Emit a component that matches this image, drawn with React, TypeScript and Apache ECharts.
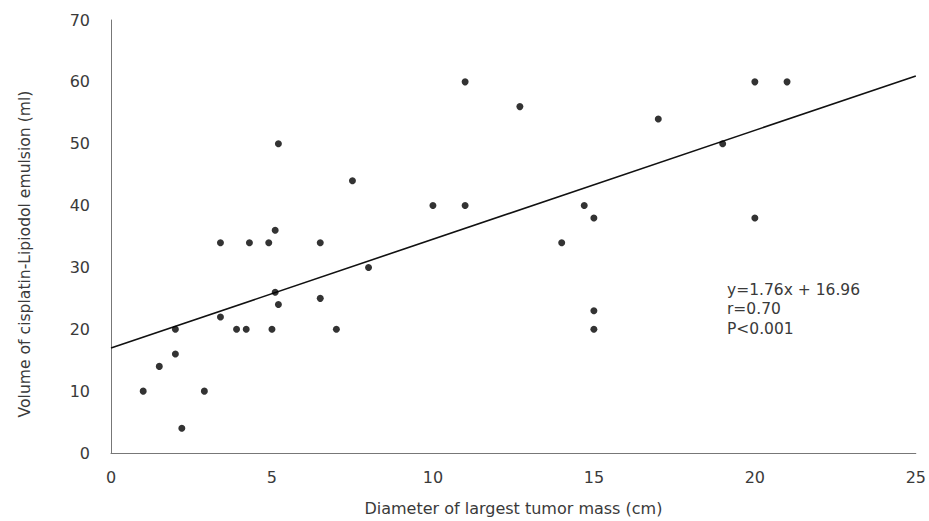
import React, { useEffect, useRef } from "react";
import * as echarts from "echarts";

const diameters = [1, 1.5, 2, 2, 2.2, 2.9, 3.4, 3.4, 3.9, 4.2, 4.3, 5, 4.9, 5.1, 5.2, 5.1, 5.2, 6.5, 6.5, 7, 7.5, 8, 10, 11, 11, 12.7, 14, 14.7, 15, 15, 15, 17, 19, 20, 21, 20];
const volumes = [10, 14, 20, 16, 4, 10, 22, 34, 20, 20, 34, 20, 34, 36, 50, 26, 24, 25, 34, 20, 44, 30, 40, 40, 60, 56, 34, 40, 38, 23, 20, 54, 50, 60, 60, 38];
const slope = 1.76;
const intercept = 16.96;
const fitRange = [0, 25];
const annotationLines = ["y=1.76x + 16.96", "r=0.70", "P<0.001"];
const xTitle = "Diameter of largest tumor mass (cm)";
const yTitle = "Volume of cisplatin-Lipiodol emulsion (ml)";

export default function App() {
  const ref = useRef<HTMLDivElement>(null);
  useEffect(() => {
    if (!ref.current) return;
    const chart = echarts.init(ref.current, null, { renderer: "svg" });
    const points = diameters.map((d, i) => [d, volumes[i]]);
    const fit = fitRange.map((x) => [x, slope * x + intercept]);
    const font = "DejaVu Sans, Liberation Sans, sans-serif";
    const textColor = "#3a3a3a";
    chart.setOption({
      animation: false,
      backgroundColor: "#fff",
      grid: { left: 111, right: 11, top: 20, bottom: 52, containLabel: false },
      xAxis: {
        type: "value",
        min: 0,
        max: 25,
        interval: 5,
        name: xTitle,
        nameLocation: "middle",
        nameGap: 47,
        nameTextStyle: { fontFamily: font, fontSize: 16, color: textColor },
        axisLine: { show: true, onZero: false, lineStyle: { color: "#777", width: 1 } },
        axisTick: { show: false },
        splitLine: { show: false },
        axisLabel: { fontFamily: font, fontSize: 16, color: textColor, margin: 16 },
      },
      yAxis: {
        type: "value",
        min: 0,
        max: 70,
        interval: 10,
        axisLine: { show: true, lineStyle: { color: "#777", width: 1 } },
        axisTick: { show: false },
        splitLine: { show: false },
        axisLabel: { fontFamily: font, fontSize: 16, color: textColor, margin: 21 },
      },
      series: [
        {
          type: "line",
          data: fit,
          showSymbol: false,
          symbol: "none",
          lineStyle: { color: "#111", width: 1.6 },
          silent: true,
          z: 1,
        },
        {
          type: "scatter",
          data: points,
          symbol: "circle",
          symbolSize: 7,
          itemStyle: { color: "#000" },
          z: 2,
        },
      ],
      graphic: [
        {
          type: "text",
          x: 25,
          y: 254,
          rotation: Math.PI / 2,
          style: {
            text: yTitle,
            fontFamily: font,
            fontSize: 15.6,
            fill: textColor,
            align: "center",
            verticalAlign: "middle",
          },
        },
        {
          type: "text",
          left: 727,
          top: 280,
          style: {
            text: annotationLines.join("\n"),
            fontFamily: font,
            fontSize: 15.5,
            lineHeight: 19.5,
            fill: textColor,
          },
        },
      ],
    });
    return () => chart.dispose();
  }, []);
  return (
    <div
      ref={ref}
      style={{ position: "fixed", left: 0, top: 0, width: 929, height: 521 }}
    />
  );
}
